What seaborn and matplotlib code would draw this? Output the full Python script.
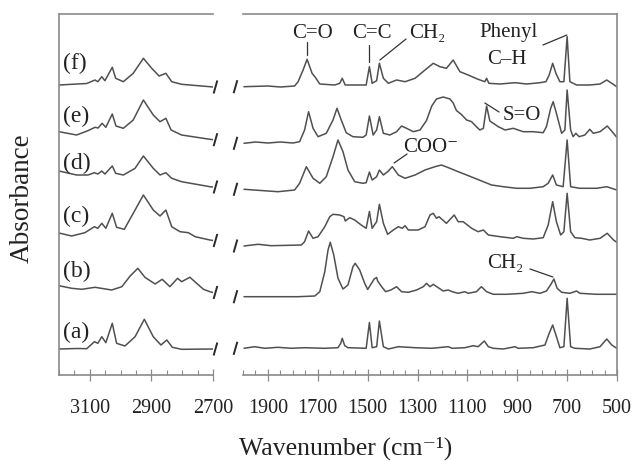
import numpy as np
import matplotlib
matplotlib.use("Agg")
import matplotlib.pyplot as plt
from matplotlib.ticker import MultipleLocator, FixedLocator
import seaborn as sns

sns.set_theme(style="white")
plt.rcParams['font.family'] = ['Liberation Serif', 'DejaVu Serif']

# ---------------- data (wavenumber in cm-1, absorbance in arbitrary units) ----------------
labels = ['(a)', '(b)', '(c)', '(d)', '(e)', '(f)']
offsets = [26, 88, 142, 204, 242, 290]

wn_a = [3200, 3140, 3110, 3085, 3074, 3061, 3048, 3027, 3013, 2986, 2953, 2923, 2894, 2869, 2850, 2832, 2802, 2700,
        1996, 1953, 1913, 1860, 1806, 1753, 1672, 1619, 1608, 1602, 1592, 1579, 1506, 1493, 1482, 1464, 1453, 1437,
        1417, 1377, 1310, 1243, 1177, 1161, 1110, 1076, 1057, 1032, 1016, 996, 956, 909, 896, 836, 789, 772, 758,
        745, 729, 713, 700, 686, 669, 609, 568, 541, 521, 501]
abs_a = [0, 0.5, 0.3, 7.3, 5.7, 12.3, 6.3, 25.7, 5.7, 3, 12.3, 29.7, 12.3, 4, 9, 1.7, -0.3, 0,
         0.7, 2.3, 0.7, 1.7, 0.7, 1.3, 0.7, 1.3, 5.7, 10.7, 3.3, 1.3, 0.7, 26.5, 1.3, 2.3, 28, 2.3,
         0, 2.3, 1.3, 0.7, 2.3, 0.7, 1.3, 3.3, 2.3, 8, 2.3, 0.7, 0, 2.3, 0.7, 1.3, 4, 15.7, 24,
         14, 1.3, 2.3, 50.7, 2.3, 0.7, 0, 2.3, 10, 4, 0.7]

wn_b = [3200, 3159, 3126, 3083, 3029, 2996, 2969, 2944, 2921, 2888, 2865, 2840, 2815, 2802, 2775, 2753, 2731, 2710, 2700,
        1996, 1779, 1712, 1692, 1672, 1659, 1650, 1636, 1619, 1599, 1579, 1559, 1550, 1532, 1512, 1500, 1474, 1464,
        1460, 1444, 1428, 1407, 1384, 1364, 1337, 1304, 1277, 1264, 1250, 1237, 1217, 1197, 1177, 1161, 1137, 1110,
        1097, 1064, 1044, 1023, 996, 942, 876, 842, 809, 783, 765, 753, 740, 722, 689, 662, 649, 582, 501]
abs_b = [1.3, -1.3, -2.3, -0.3, -3, 0.3, 11, 18.7, 9.7, 3, 7.7, 0.3, 8.7, 5.3, 9.7, 3.7, -2.3, -4.7, -5.5,
         -9.7, -9.7, -9, -4.7, 15.3, 37, 44.7, 32, 8.7, -2, 2, 20.3, 23.7, 17, 3.7, -2.5, 8, 9.5,
         6, 0.3, -4.7, -3, 0.3, -4.7, -5.3, -3, 0.3, 3.7, 0.3, 2.7, -0.7, -4, -3, -4.7, -6.3, -4.7,
         -6.3, -4.7, 0.3, -4.7, -7.3, -7.3, -6.3, -4.7, -6.3, -4, 2.7, 8, -1.3, -5.3, -6.3, -4, -6.3, -7.3, -7.3]

wn_c = [3200, 3159, 3116, 3085, 3074, 3061, 3048, 3027, 3013, 2988, 2953, 2926, 2894, 2872, 2853, 2834, 2807, 2780, 2758,
        2710, 2700,
        1996, 1940, 1887, 1766, 1753, 1737, 1719, 1699, 1672, 1652, 1639, 1612, 1595, 1590, 1572, 1552, 1526, 1506,
        1493, 1482, 1464, 1453, 1437, 1420, 1397, 1377, 1361, 1350, 1337, 1297, 1270, 1250, 1237, 1224, 1214, 1184,
        1153, 1137, 1117, 1083, 1057, 1036, 1016, 969, 916, 902, 876, 836, 796, 776, 758, 743, 726, 713, 700, 686,
        669, 642, 609, 568, 539, 514, 501]
abs_c = [0, -3, 0.3, 6.3, 4.7, 9.7, 4.7, 19.7, 5.7, 3.7, 23, 38, 23, 17, 23, 6.3, 1.3, 0.3, -3.7,
         -7, -7.5,
         -13, -11.3, -12.7, -12, -8.7, 2, -5.3, -3.7, 6.3, 16.3, 18.7, 18, 16.3, 12, 15.3, 13, 8, 4.7,
         21.5, 4.7, 11.3, 28.7, 9.7, -1.3, 3, 6.3, 4.7, 7.3, 3, 3, 6.3, 18, 19.7, 14.7, 16.3, 9.7,
         18, 11.3, 11.3, 4.7, 1.3, 3, -2, -3.7, -5.3, -3.7, -5.3, -6, -4.7, 8, 31.3, 11.3, -2, 1.3, 39.7, 1.3,
         -4.7, -5.3, -7, -5.3, -0.3, -7, -9.3]

wn_d = [3200, 3143, 3106, 3085, 3074, 3061, 3051, 3027, 3016, 2991, 2953, 2926, 2894, 2872, 2853, 2834, 2802, 2710, 2700,
        1996, 1860, 1793, 1773, 1746, 1719, 1692, 1666, 1639, 1619, 1599, 1579, 1552, 1519, 1506, 1493, 1482, 1464,
        1453, 1437, 1420, 1401, 1377, 1350, 1310, 1270, 1230, 1204, 1170, 1137, 1103, 1070, 1036, 1003, 956, 902,
        849, 796, 776, 758, 743, 716, 700, 686, 649, 582, 541, 501]
abs_d = [0, -4, -4, -1.7, -3, 0, -3, 5, -2.3, -4, 2.7, 15, 2.7, -4, -1.7, -7.3, -10.7, -15.7, -16,
         -18.3, -20.7, -19, -12.3, 4.3, -7.3, -12.3, -5.7, 14.3, 31, 19.3, 1, -10.7, -12.3, -11.7, -1, -9, -5.7,
         1, -4, -0.7, 4.3, -4, -7.3, -4, 1, 4.3, 6, 2.7, -0.7, -4, -7.3, -10.7, -14, -15.7, -17.3,
         -17.3, -15.7, -12.3, -4, -14, -15.7, 31, -15.7, -17.3, -17.3, -15.7, -19]

wn_e = [3200, 3143, 3106, 3083, 3073, 3060, 3048, 3027, 3015, 2991, 2959, 2926, 2894, 2872, 2853, 2836, 2802, 2710, 2700,
        1996, 1950, 1900, 1850, 1800, 1773, 1753, 1737, 1719, 1699, 1666, 1639, 1623, 1606, 1586, 1559, 1519, 1506,
        1493, 1478, 1464, 1453, 1437, 1411, 1384, 1364, 1344, 1317, 1290, 1264, 1243, 1224, 1197, 1170, 1157, 1144,
        1124, 1103, 1083, 1064, 1050, 1036, 1023, 1010, 976, 949, 916, 876, 836, 796, 783, 766, 756, 743, 722, 709,
        700, 686, 676, 665, 652, 629, 609, 595, 568, 539, 514, 501]
abs_e = [1.3, -2, 2.3, 5.7, 5, 9.7, 5.7, 19, 7, 4.7, 13, 33, 18, 11.3, 14.7, 3, -2, -6.3, -6.7,
         -10.3, -9, -10, -9, -10, -8.7, 3, 21.3, 4.7, -3.7, -0.3, 13, 24.7, 13, 0.3, -3.7, -4.3, -2,
         17, -2, 3, 16.3, -0.3, -2, 1.3, 7, 4.7, 1.3, 3, 12.5, 27, 34, 36, 34, 30, 22.5,
         18.5, 13, 11.3, 6.3, 3, 4.7, 27, 12, 6.3, 3, 4.7, 1.3, 1.3, 0.3, 6.3, 24.7, 31.3, 19.7, -0.3, 3,
         43, 3, -3.7, -0.3, -3.7, -2, 3.7, -0.3, 1.3, 7, -0.3, -4.3]

wn_f = [3200, 3110, 3083, 3074, 3061, 3051, 3027, 3016, 2991, 2959, 2926, 2899, 2875, 2853, 2834, 2802, 2710, 2700,
        1996, 1900, 1850, 1793, 1779, 1759, 1743, 1723, 1710, 1692, 1632, 1612, 1602, 1590, 1506, 1493, 1482, 1464,
        1453, 1437, 1417, 1384, 1350, 1310, 1270, 1237, 1210, 1184, 1157, 1130, 1097, 1057, 1030, 1023, 1014, 969,
        909, 862, 809, 785, 772, 758, 745, 729, 713, 700, 689, 662, 609, 568, 541, 521, 501]
abs_f = [0, 1.5, 5, 3.3, 8.3, 4.3, 17.7, 6.7, 3.3, 11.7, 26.7, 16.7, 9, 11.7, 3.3, 0.7, -1.7, -2,
         -1.7, -1, -2, -1, 3.3, 15, 25.7, 11.7, 7.7, 1, 0, 1.7, 6.7, 0, 0, 18.3, 1.7, 4.3,
         21.7, 6.7, 1.7, 5, 3.3, 6.7, 15, 21.7, 18.3, 16.7, 25, 13.3, 10, 5.7, 3.3, 6.7, 1.7, 1,
         2.3, 1, 2.3, 3.3, 10, 21.7, 11.7, 3.3, 3.3, 48.3, 3.3, 0, 0, 1, 5, 1.7, -1.7]

spectra_wn = [wn_a, wn_b, wn_c, wn_d, wn_e, wn_f]
spectra_abs = [abs_a, abs_b, abs_c, abs_d, abs_e, abs_f]

hi_ticks = [3100, 2900, 2700]
lo_ticks = [1900, 1700, 1500, 1300, 1100, 900, 700, 500]

# ---------------- layout ----------------
W, H = 636, 461
fig = plt.figure(figsize=(W / 100, H / 100), dpi=100)
ax_l = fig.add_axes([59 / W, 86 / H, 154 / W, 361 / H])
ax_r = fig.add_axes([243 / W, 86 / H, 374 / W, 361 / H])

line_color = '#505050'
spine_color = '#8a8a8a'
label_dy = [17, 16, 17, 8, 17, 22]

for wn, ab, off, lab, dy in zip(spectra_wn, spectra_abs, offsets, labels, label_dy):
    assert len(wn) == len(ab), lab
    wn = np.asarray(wn, float)
    y = np.asarray(ab, float) + off
    hi = wn > 2400
    sns.lineplot(x=wn[hi], y=y[hi], ax=ax_l, sort=False, estimator=None,
                 color=line_color, linewidth=1.1)
    sns.lineplot(x=wn[~hi], y=y[~hi], ax=ax_r, sort=False, estimator=None,
                 color=line_color, linewidth=1.1)
    # axis-break marks, at the level of the spectrum ends
    for xc, yc in ((2692, y[hi][-1]), (2627, y[~hi][0])):
        ax_l.plot([xc + 6, xc - 6], [yc - 6.5, yc + 6.5], color='#2a2a2a', lw=1.4,
                  clip_on=False, solid_capstyle='butt')
    ax_l.text(3188, off + dy, lab, fontsize=17, ha='left', va='center', color='#222222')

ax_l.set_xlim(3200, 2700)
ax_r.set_xlim(2000, 500)
for ax in (ax_l, ax_r):
    ax.set_ylim(0, 361)
    ax.set_yticks([])
    ax.set_xlabel('')
    ax.set_ylabel('')
    ax.minorticks_on()
    ax.yaxis.set_minor_locator(FixedLocator([]))
    ax.xaxis.set_minor_locator(MultipleLocator(50))
    ax.tick_params(axis='x', which='major', direction='inout', length=9, width=0.9,
                   color=spine_color, labelsize=14.5, pad=13, labelcolor='#222222', bottom=True)
    ax.tick_params(axis='x', which='minor', direction='in', length=3.5, width=0.8,
                   color=spine_color, bottom=True)
    for s in ax.spines.values():
        s.set_color(spine_color)
        s.set_linewidth(1.2)
ax_l.set_xticks(hi_ticks)
ax_r.set_xticks(lo_ticks)
ax_l.spines['right'].set_visible(False)
ax_r.spines['left'].set_visible(False)

# ---------------- annotations ----------------
txt_kw = dict(fontsize=15, ha='center', va='center', color='#222222')
lk = dict(color='#333333', lw=0.9)
ax_r.text(1723, 342, 'C=O', **txt_kw)
ax_r.plot([1743, 1743], [333, 320], **lk)
ax_r.text(1483, 341, 'C=C', **txt_kw)
ax_r.plot([1493, 1493], [330, 313], **lk)
ax_r.text(1262, 341, 'CH\u2082', **txt_kw)
ax_r.plot([1346, 1451], [336, 315], **lk)
ax_r.text(937, 343, 'Phenyl', **txt_kw)
ax_r.text(941, 315, 'C\u2013H', **txt_kw)
ax_r.plot([797, 701], [330, 340], **lk)
ax_r.text(881, 259, 'S=O', **txt_kw)
ax_r.plot([973, 1030], [263, 272], **lk)
ax_r.text(1246, 227, 'COO\u207b', **txt_kw)
ax_r.plot([1342, 1394], [221, 212], **lk)
ax_r.text(949, 112, 'CH\u2082', **txt_kw)
ax_r.plot([849, 757], [106, 98], **lk)

fig.text(346 / W, 1 - 448 / H, 'Wavenumber (cm\u207b\u00b9)', fontsize=18.5, ha='center', va='center',
         color='#222222')
fig.text(22 / W, 1 - 198 / H, 'Absorbance', fontsize=19.5, rotation=90, ha='center', va='center',
         color='#222222')

fig.savefig('out.png', dpi=100)
